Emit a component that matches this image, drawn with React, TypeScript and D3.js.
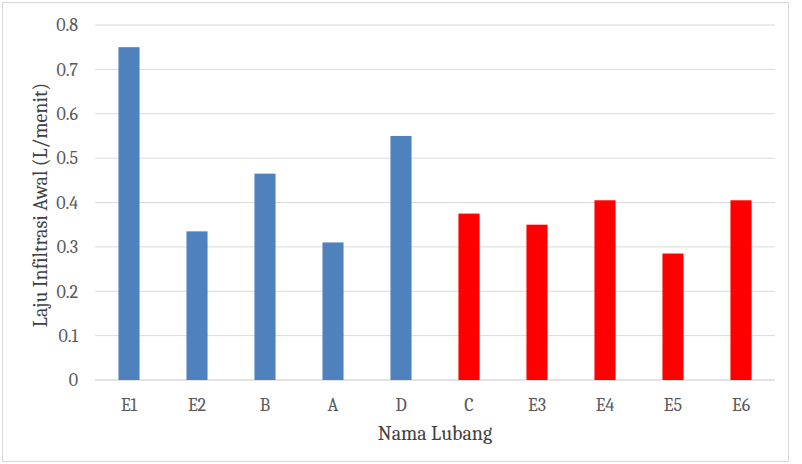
import React from "react";
import * as d3 from "d3";

const categories = ["E1", "E2", "B", "A", "D", "C", "E3", "E4", "E5", "E6"];
const values = [0.75, 0.335, 0.465, 0.31, 0.55, 0.375, 0.35, 0.405, 0.285, 0.405];
const groups = ["blue", "blue", "blue", "blue", "blue", "red", "red", "red", "red", "red"];
const yTicks = [0, 0.1, 0.2, 0.3, 0.4, 0.5, 0.6, 0.7, 0.8];

const W = 802, H = 464;
const left = 95, right = 775, top = 25, bottom = 380;
const font = "Cambria, 'Liberation Serif', 'DejaVu Serif', serif";
const colors: Record<string, string> = { blue: "#4F81BD", red: "#FF0000" };

export default function App() {
  const x = d3.scaleBand<string>().domain(categories).range([left, right]).paddingInner(0.69).paddingOuter(0.345);
  const y = d3.scaleLinear().domain([0, 0.8]).range([bottom, top]);
  return (
    <svg width={W} height={H} style={{ position: "fixed", left: 0, top: 0, background: "#fff" }}>
      <rect x={2.5} y={2.5} width={786} height={459} fill="#fff" stroke="#d9d9d9" />
      {yTicks.map((t) => (
        <g key={t}>
          <line x1={left} x2={right} y1={y(t)} y2={y(t)} stroke="#d9d9d9" strokeWidth={t === 0 ? 1.5 : 1} />
          <text x={78} y={y(t)} dy="0.35em" textAnchor="end" fontFamily={font} fontSize={18} fill="#595959">
            {t === 0 ? "0" : d3.format(".1f")(t)}
          </text>
        </g>
      ))}
      {categories.map((c, i) => (
        <g key={c}>
          <rect x={x(c)} y={y(values[i])} width={x.bandwidth()} height={y(0) - y(values[i])} fill={colors[groups[i]]} />
          <text x={(x(c) as number) + x.bandwidth() / 2} y={405} dy="0.35em" textAnchor="middle" fontFamily={font} fontSize={18} fill="#595959">
            {c}
          </text>
        </g>
      ))}
      <text x={435} y={433} dy="0.35em" textAnchor="middle" fontFamily={font} fontSize={20} fill="#404040">
        Nama Lubang
      </text>
      <text transform={`translate(40,205) rotate(-90)`} dy="0.35em" textAnchor="middle" fontFamily={font} fontSize={20} fill="#404040">
        Laju Infiltrasi Awal (L/menit)
      </text>
    </svg>
  );
}
